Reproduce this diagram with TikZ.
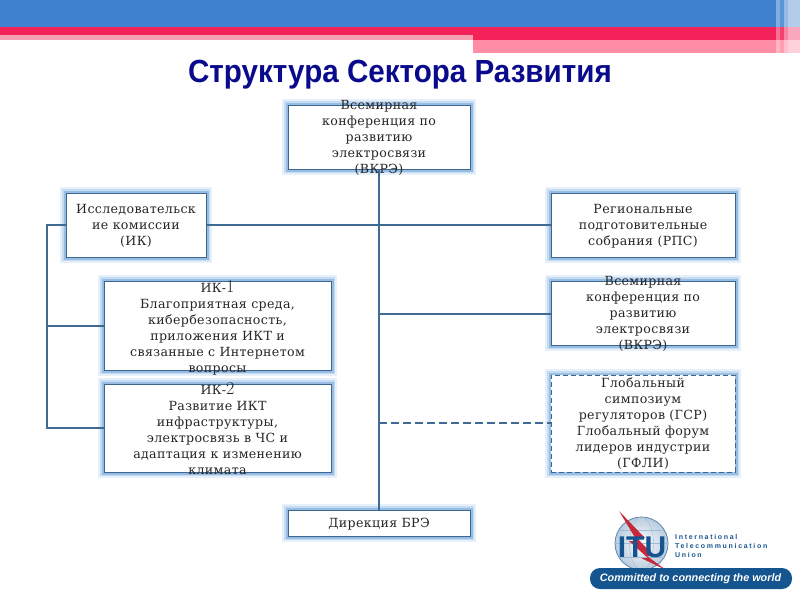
\documentclass[tikz,border=0pt]{standalone}
\usepackage{fontspec}
\setmainfont[LetterSpace=2.8]{DejaVu Serif}
\newfontfamily\titlefont{Liberation Sans}
\newfontfamily\logofont[LetterSpace=24]{Liberation Sans}
\newfontfamily\slogfont{Liberation Sans}
\newfontfamily\lmfont{Latin Modern Roman}
\definecolor{hblue}{HTML}{4082CE}
\definecolor{hred}{HTML}{F32258}
\definecolor{hpink}{HTML}{FF8DA5}
\definecolor{hpale}{HTML}{F7A0B4}
\definecolor{navy}{HTML}{0A0A8C}
\definecolor{linec}{HTML}{3F6A94}
\definecolor{edgec}{HTML}{3A6690}
\definecolor{glowa}{HTML}{E6F0FA}
\definecolor{glowb}{HTML}{C6DCF2}
\definecolor{glowc}{HTML}{98BDE4}
\definecolor{itub}{HTML}{14548F}
\definecolor{itur}{HTML}{C8283C}
\tikzset{
  x=1pt,y=-1pt,
  glowbox/.style={
    preaction={draw=glowa,line width=12pt,solid},
    preaction={draw=glowb,line width=8.5pt,solid},
    preaction={draw=glowc,line width=5pt,solid},
    draw=edgec,fill=white,line width=1pt,minimum width=#1,inner sep=0pt,
    font=\fontsize{12.6}{16}\selectfont,text=black!85},
  conn/.style={draw=linec,line width=1.5pt}
}
\newcommand{\IKnum}[1]{{\lmfont\fontsize{18}{16}\selectfont #1}}
% text block that may stand out of its box without growing the box
\newcommand{\ctext}[2][0pt]{\raisebox{\dimexpr-4pt+#1\relax}[0pt][0pt]{\setlength{\tabcolsep}{0pt}\begin{tabular}{c}#2\end{tabular}}}
\begin{document}
\begin{tikzpicture}
\useasboundingbox (0,0) rectangle (800,600);
% header
\fill[hblue] (0,0) rectangle (800,27);
\fill[hred] (0,27) rectangle (800,35);
\fill[hpale] (0,35) rectangle (473,40);
\fill[hred] (473,35) rectangle (800,40);
\fill[hpink] (473,40) rectangle (800,53);
\fill[white,opacity=.35] (776,0) rectangle (780,53);
\fill[white,opacity=.15] (780,0) rectangle (784,53);
\fill[white,opacity=.45] (784,0) rectangle (788,53);
\fill[white,opacity=.6] (788,0) rectangle (800,53);
% title
\node[font=\titlefont\bfseries\fontsize{32}{32}\selectfont,text=navy,inner sep=0pt] (title) at (400,75) {\scalebox{.925}[1]{Структура Сектора Развития}};
% boxes
\node[glowbox=182pt,minimum height=64pt] (wcdt) at (379,137) {\ctext{Всемирная\\конференция по\\развитию\\электросвязи\\(ВКРЭ)}};
\node[glowbox=140pt,minimum height=64pt] (ik) at (136,225) {\ctext{Исследовательск\\ие комиссии\\(ИК)}};
\node[glowbox=227pt,minimum height=89pt] (ik1) at (217.5,325.5) {\ctext[-2.5pt]{ИК-\IKnum{1}\\Благоприятная среда,\\кибербезопасность,\\приложения ИКТ и\\связанные с Интернетом\\вопросы}};
\node[glowbox=227pt,minimum height=88pt] (ik2) at (217.5,428) {\ctext[-2pt]{ИК-\IKnum{2}\\Развитие ИКТ\\инфраструктуры,\\электросвязь в ЧС и\\адаптация к изменению\\климата}};
\node[glowbox=184pt,minimum height=64pt] (rps) at (643,225) {\ctext{Региональные\\подготовительные\\собрания (РПС)}};
\node[glowbox=184pt,minimum height=64pt] (wcdt2) at (643,313) {\ctext{Всемирная\\конференция по\\развитию\\электросвязи\\(ВКРЭ)}};
\node[glowbox=184pt,minimum height=97pt,dash pattern=on 5pt off 3pt] (gsr) at (643,423.5) {\ctext{Глобальный\\симпозиум\\регуляторов (ГСР)\\Глобальный форум\\лидеров индустрии\\(ГФЛИ)}};
\node[glowbox=182pt,minimum height=26pt] (brdir) at (379,523) {\ctext{Дирекция БРЭ}};
% connectors
\coordinate (jm) at (379,314);
\coordinate (jd) at (379,423);
\coordinate (l0) at (47,225);
\coordinate (l1) at (47,326);
\coordinate (l2) at (47,428);
\draw[conn] (wcdt.south) -- (brdir.north);
\draw[conn] (ik.east) -- (rps.west);
\draw[conn] (jm) -- (wcdt2.west |- jm);
\draw[conn,dash pattern=on 8pt off 4pt] (jd) -- (gsr.west |- jd);
\draw[conn] (ik.west) -- (l0) -- (l2) -- (ik2.west |- l2);
\draw[conn] (l1) -- (ik1.west |- l1);
% logo
\coordinate (g) at (641.5,543.5);
\shade[inner color=white,outer color=itub!30] (g) circle (26.5);
\draw[itub!70,line width=.8pt] (g) circle (26.5);
\draw[itub!40,line width=.4pt] (g) ellipse (12 and 26.5);
\draw[itub!40,line width=.4pt] (615,543.5) -- (668,543.5);
\draw[itub!40,line width=.4pt] (619,530) -- (664,530);
\draw[itub!40,line width=.4pt] (619,557) -- (664,557);
\fill[itur] (619,511) -- (645,538) -- (637,538) -- (654,556) -- (647,556) -- (666,570) -- (641,558) -- (648,558) -- (629,541) -- (637,541) -- cycle;
\node[font=\titlefont\bfseries\fontsize{30}{30}\selectfont,text=itub,inner sep=0pt] (itu) at (642,547) {ITU};
\node[font=\logofont\bfseries\fontsize{7}{9}\selectfont,text=itub,align=left,anchor=west,inner sep=0pt] (itun) at (675,546) {International\\Telecommunication\\Union};
\fill[itub,rounded corners=10pt] (590,568) rectangle (792,589);
\node[font=\slogfont\itshape\bfseries\fontsize{10.8}{12}\selectfont,text=white,inner sep=0pt] (slogan) at (690.5,578.5) {Committed to connecting the world};
\end{tikzpicture}
\end{document}
